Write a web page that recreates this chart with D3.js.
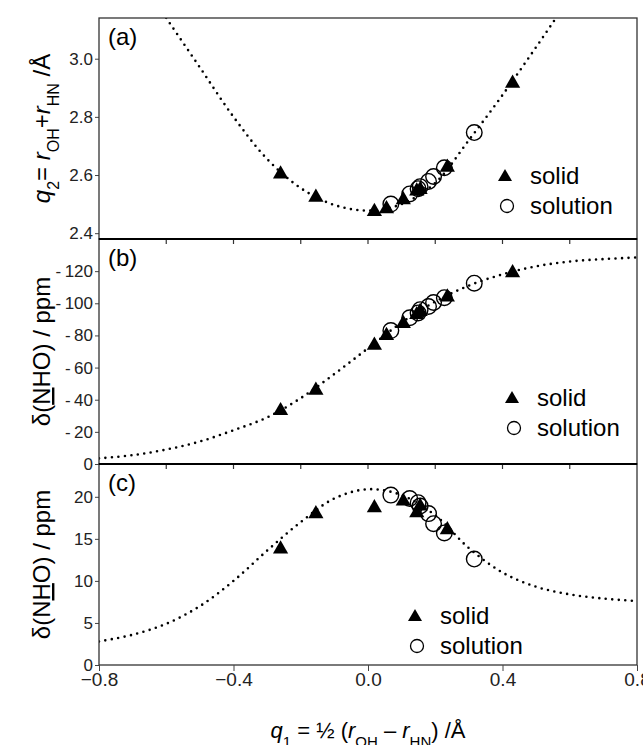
<!DOCTYPE html>
<html>
<head>
<meta charset="utf-8">
<script src="https://cdn.jsdelivr.net/npm/d3@7"></script>
<style>
body { margin: 0; background: #fff; }
svg { display: block; font-family: "Liberation Sans", Arial, sans-serif; }
</style>
</head>
<body>
<div id="chart"></div>
<script>
// q1 positions of the compounds
var solidQ1 = [-0.26, -0.155, 0.019, 0.055, 0.105, 0.145, 0.155, 0.236, 0.43];
var solidQ2 = [2.607, 2.527, 2.478, 2.487, 2.518, 2.548, 2.553, 2.63, 2.919];
var solidShiftN = [-33.8, -46.5, -74.5, -80.5, -88, -93.5, -95.5, -104.5, -119.6];
var solidQ1c = [-0.26, -0.155, 0.019, 0.105, 0.145, 0.155, 0.236];
var solidShiftH = [13.9, 18.1, 18.8, 19.6, 18.2, 19.0, 16.2];

var solnQ1 = [0.068, 0.124, 0.149, 0.155, 0.18, 0.195, 0.227, 0.316];
var solnQ2 = [2.50, 2.535, 2.553, 2.56, 2.578, 2.595, 2.625, 2.746];
var solnShiftN = [-83, -91, -94, -96, -98, -100.5, -103.5, -112.5];
var solnShiftH = [20.2, 19.8, 19.3, 18.9, 18.0, 16.8, 15.7, 12.6];

// dotted correlation curves
var fitQ1 = [-0.8, -0.7, -0.6, -0.5, -0.4, -0.3, -0.2, -0.1, 0.0, 0.1, 0.2, 0.3, 0.4, 0.5, 0.6, 0.7, 0.8];
var fitQ2 = [3.47, 3.31, 3.14, 2.97, 2.80, 2.655, 2.555, 2.497, 2.478, 2.50, 2.573, 2.72, 2.875, 3.04, 3.21, 3.38, 3.55];
var fitShiftN = [-3.5, -5.5, -9, -14, -21, -29, -41, -56, -72, -88, -101, -111, -118, -123, -126, -127.5, -128.5];
var fitShiftH = [2.8, 3.6, 4.9, 7.0, 10.0, 13.6, 17.0, 19.8, 20.9, 20.2, 17.8, 13.9, 11.0, 9.3, 8.4, 7.9, 7.6];

// tick labels
var q1Ticks = [-0.8, -0.4, 0.0, 0.4, 0.8];
var innerTicks = [-0.6, -0.4, -0.2, 0.0, 0.2, 0.4, 0.6];
var q2Ticks = [2.4, 2.6, 2.8, 3.0];
var shiftNTicks = [0, -20, -40, -60, -80, -100, -120];
var shiftHTicks = [0, 5, 10, 15, 20];

function init(){

    var w = 643;
    var h = 745;
    var left = 99, right = 637;
    var base = 665;

    var svg = d3.select("#chart")
                .append("svg")
                .attr("width", w)
                .attr("height", h);

    var xScale = d3.scaleLinear()
                    .domain([-0.8, 0.8])
                    .range([left, right]);

    var panels = [
        {id: "a", top: 18, bottom: 239, domain: [2.38, 3.14], ticks: q2Ticks,
         fmt: function(d){ return d.toFixed(1); },
         fit: fitQ2, sx: solidQ1, sy: solidQ2, cx: solnQ1, cy: solnQ2,
         legend: [505, 176, 530]},
        {id: "b", top: 239, bottom: 464, domain: [0, -140], ticks: shiftNTicks,
         fmt: function(d){ return d === 0 ? "0" : "-\u2009" + Math.abs(d); },
         fit: fitShiftN, sx: solidQ1, sy: solidShiftN, cx: solnQ1, cy: solnShiftN,
         legend: [512, 398, 537]},
        {id: "c", top: 464, bottom: base, domain: [0, 23.9], ticks: shiftHTicks,
         fmt: function(d){ return d; },
         fit: fitShiftH, sx: solidQ1c, sy: solidShiftH, cx: solnQ1, cy: solnShiftH,
         legend: [415, 616, 440]}
    ];

    var triangle = d3.symbol().type(d3.symbolTriangle).size(100);
    var triangleSmall = d3.symbol().type(d3.symbolTriangle).size(85);

    panels.forEach(function(p){
        var yScale = d3.scaleLinear()
                        .domain(p.domain)
                        .range([p.bottom, p.top]);

        var g = svg.append("g");

        g.append("clipPath")
            .attr("id", "clip-" + p.id)
            .append("rect")
            .attr("x", left)
            .attr("y", p.top)
            .attr("width", right - left)
            .attr("height", p.bottom - p.top);

        // y axis
        var yAxis = d3.axisLeft(yScale)
                    .tickValues(p.ticks)
                    .tickFormat(p.fmt)
                    .tickSize(4)
                    .tickPadding(2);
        var ya = g.append("g")
            .attr("transform", "translate(" + left + ",0)")
            .call(yAxis);
        ya.select(".domain").remove();
        ya.selectAll("line").attr("stroke", "#444");
        ya.selectAll("text")
            .attr("font-size", "17px")
            .attr("fill", "#222")
            .attr("font-family", "Liberation Sans, Arial, sans-serif");

        // ticks on the top edge (between panels)
        if (p.id !== "a") {
            g.selectAll(".itick")
                .data(innerTicks)
                .enter()
                .append("line")
                .attr("x1", function(d){ return xScale(d); })
                .attr("x2", function(d){ return xScale(d); })
                .attr("y1", p.top)
                .attr("y2", p.top + 5)
                .attr("stroke", "#333")
                .attr("stroke-width", 1.2);
        }

        // dotted fit
        var line = d3.line()
                    .x(function(d, i){ return xScale(fitQ1[i]); })
                    .y(function(d){ return yScale(d); })
                    .curve(d3.curveCatmullRom);

        g.append("path")
            .datum(p.fit)
            .attr("clip-path", "url(#clip-" + p.id + ")")
            .attr("d", line)
            .attr("fill", "none")
            .attr("stroke", "#000")
            .attr("stroke-width", 2.6)
            .attr("stroke-linecap", "round")
            .attr("stroke-dasharray", "0,6.5");

        // solid state points
        g.selectAll(".solid")
            .data(p.sy)
            .enter()
            .append("path")
            .attr("d", triangle)
            .attr("transform", function(d, i){
                return "translate(" + xScale(p.sx[i]) + "," + (yScale(d) + 1) + ")";
            })
            .attr("fill", "#000");

        // solution points
        g.selectAll(".soln")
            .data(p.cy)
            .enter()
            .append("circle")
            .attr("cx", function(d, i){ return xScale(p.cx[i]); })
            .attr("cy", function(d){ return yScale(d); })
            .attr("r", 7.8)
            .attr("fill", "none")
            .attr("stroke", "#000")
            .attr("stroke-width", 1.4);

        // frame
        g.append("rect")
            .attr("x", left)
            .attr("y", p.top)
            .attr("width", right - left)
            .attr("height", p.bottom - p.top)
            .attr("fill", "none")
            .attr("stroke", "#333")
            .attr("stroke-width", 1.3);

        // panel letter
        g.append("text")
            .attr("x", left + 9)
            .attr("y", p.top + 27)
            .attr("font-size", "24px")
            .text("(" + p.id + ")");

        // legend
        var lx = p.legend[0], ly = p.legend[1], tx = p.legend[2];
        g.append("path")
            .attr("d", triangleSmall)
            .attr("transform", "translate(" + lx + "," + (ly + 1) + ")")
            .attr("fill", "#000");
        g.append("text")
            .attr("x", tx)
            .attr("y", ly + 8)
            .attr("font-size", "24px")
            .text("solid");
        g.append("circle")
            .attr("cx", lx + 2)
            .attr("cy", ly + 30)
            .attr("r", 6.5)
            .attr("fill", "none")
            .attr("stroke", "#000")
            .attr("stroke-width", 1.3);
        g.append("text")
            .attr("x", tx)
            .attr("y", ly + 38)
            .attr("font-size", "24px")
            .text("solution");

        // y title
        var t = g.append("text")
            .attr("transform", "translate(50," + ((p.top + p.bottom) / 2) + ") rotate(-90)")
            .attr("text-anchor", "middle")
            .attr("font-size", "24px");
        if (p.id === "a") {
            t.append("tspan").attr("font-style", "italic").text("q");
            t.append("tspan").attr("baseline-shift", "sub").attr("font-size", "16px").text("2");
            t.append("tspan").text("= ");
            t.append("tspan").attr("font-style", "italic").text("r");
            t.append("tspan").attr("baseline-shift", "sub").attr("font-size", "16px").text("OH");
            t.append("tspan").text("+");
            t.append("tspan").attr("font-style", "italic").text("r");
            t.append("tspan").attr("baseline-shift", "sub").attr("font-size", "16px").text("HN");
            t.append("tspan").text(" /\u00C5");
        } else if (p.id === "b") {
            t.append("tspan").text("\u03B4(");
            t.append("tspan").style("text-decoration", "underline").text("N");
            t.append("tspan").text("HO) / ppm");
        } else {
            t.append("tspan").text("\u03B4(N");
            t.append("tspan").style("text-decoration", "underline").text("H");
            t.append("tspan").text("O) / ppm");
        }
    });

    // divider lines between panels
    svg.selectAll(".divider")
        .data([239, 464])
        .enter()
        .append("line")
        .attr("x1", left)
        .attr("x2", right)
        .attr("y1", function(d){ return d; })
        .attr("y2", function(d){ return d; })
        .attr("stroke", "#000")
        .attr("stroke-width", 2);

    // bottom x axis
    var xAxis = d3.axisBottom(xScale)
                .tickValues(q1Ticks)
                .tickFormat(function(d){
                    return d < 0 ? "\u2212" + Math.abs(d).toFixed(1) : d.toFixed(1);
                })
                .tickSize(6)
                .tickPadding(2);
    var xa = svg.append("g")
        .attr("transform", "translate(0," + base + ")")
        .call(xAxis);
    xa.select(".domain").remove();
    xa.selectAll("line").attr("stroke", "#444");
    xa.selectAll("text")
        .attr("font-size", "19px")
        .attr("fill", "#222")
        .attr("font-family", "Liberation Sans, Arial, sans-serif");

    // x title
    var xt = svg.append("text")
        .attr("x", (left + right) / 2)
        .attr("y", 738)
        .attr("text-anchor", "middle")
        .attr("font-size", "22px");
    xt.append("tspan").attr("font-style", "italic").text("q");
    xt.append("tspan").attr("baseline-shift", "sub").attr("font-size", "15px").text("1");
    xt.append("tspan").text(" = \u00BD (");
    xt.append("tspan").attr("font-style", "italic").text("r");
    xt.append("tspan").attr("baseline-shift", "sub").attr("font-size", "15px").text("OH");
    xt.append("tspan").text(" \u2013 ");
    xt.append("tspan").attr("font-style", "italic").text("r");
    xt.append("tspan").attr("baseline-shift", "sub").attr("font-size", "15px").text("HN");
    xt.append("tspan").text(") /\u00C5");
}

window.onload = init;
</script>
</body>
</html>
